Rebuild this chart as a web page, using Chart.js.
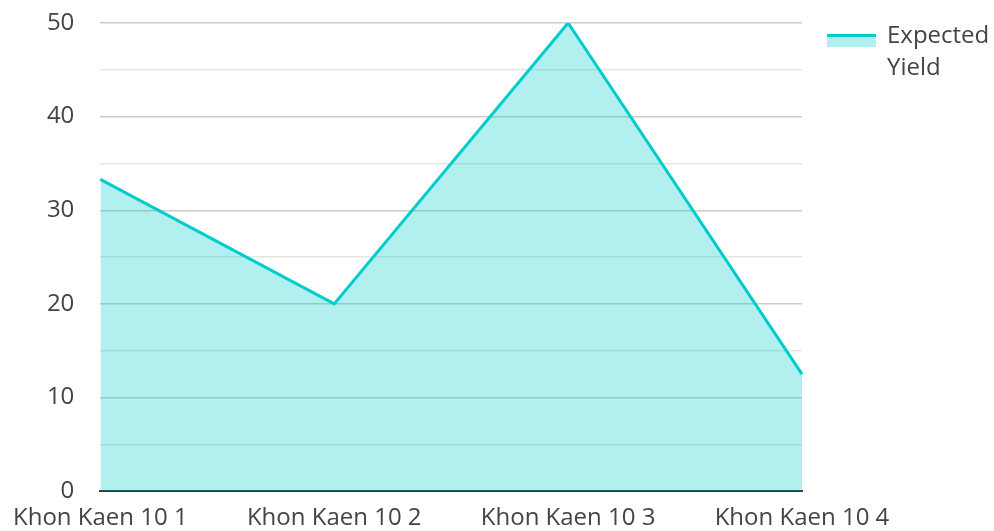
<!DOCTYPE html>
<html>
<head>
<meta charset="utf-8">
<script src="https://cdn.jsdelivr.net/npm/chart.js@4"></script>
<style>
  html, body { margin: 0; padding: 0; background: #fff; }
  #wrap { width: 994px; height: 531px; position: relative; }
</style>
</head>
<body>
<div id="wrap"><canvas id="yieldChart"></canvas></div>
<script>
const categories = ['Khon Kaen 10 1', 'Khon Kaen 10 2', 'Khon Kaen 10 3', 'Khon Kaen 10 4'];
const expectedYield = [33.3, 20, 50, 12.5];
const seriesLabel = ['Expected', 'Yield'];

const lineColor = 'rgb(0, 204, 204)';
const fillColor = 'rgba(0, 204, 204, 0.3)';
const textColor = '#444';
const fontFamily = '"Open Sans", "Noto Sans", sans-serif';

// legend is drawn by hand so the label can wrap onto two lines
const wrappedLegend = {
  id: 'wrappedLegend',
  afterDraw: function (chart) {
    const ctx = chart.ctx;
    const x = chart.chartArea.right + 25;
    const y = 34;
    ctx.save();
    ctx.fillStyle = fillColor;
    ctx.fillRect(x, y, 49, 13);
    ctx.fillStyle = lineColor;
    ctx.fillRect(x, y, 49, 3);
    ctx.fillStyle = textColor;
    ctx.font = '24px ' + fontFamily;
    ctx.textBaseline = 'middle';
    ctx.textAlign = 'left';
    seriesLabel.forEach(function (t, i) {
      ctx.fillText(t, x + 60, y + 2 + i * 32);
    });
    ctx.restore();
  }
};

new Chart(document.getElementById('yieldChart'), {
  type: 'line',
  data: {
    labels: categories,
    datasets: [{
      label: seriesLabel.join(' '),
      data: expectedYield,
      borderColor: lineColor,
      backgroundColor: fillColor,
      borderWidth: 3,
      fill: 'origin',
      pointRadius: 0,
      tension: 0
    }]
  },
  options: {
    responsive: true,
    maintainAspectRatio: false,
    animation: false,
    layout: { padding: { top: 23, right: 192, left: 13, bottom: -15 } },
    plugins: {
      legend: { display: false },
      tooltip: { enabled: false }
    },
    scales: {
      x: {
        offset: false,
        z: 1,
        grid: { display: false, drawTicks: false },
        border: { display: true, color: '#333', width: 2 },
        ticks: {
          color: textColor,
          font: { family: fontFamily, size: 24 },
          padding: 13,
          maxRotation: 0,
          autoSkip: false
        }
      },
      y: {
        min: 0,
        max: 50,
        border: { display: false },
        grid: {
          drawTicks: true,
          tickLength: 26,
          tickColor: 'rgba(0,0,0,0)',
          color: function (c) {
            const v = c.tick.value;
            if (v === 0) return 'rgba(0,0,0,0)';
            return v % 10 === 0 ? '#cccccc' : '#e6e6e6';
          },
          lineWidth: 1.5
        },
        ticks: {
          stepSize: 5,
          color: textColor,
          font: { family: fontFamily, size: 24 },
          padding: 0,
          callback: function (v) { return v % 10 === 0 ? v : ''; }
        }
      }
    }
  },
  plugins: [wrappedLegend]
});
</script>
</body>
</html>
